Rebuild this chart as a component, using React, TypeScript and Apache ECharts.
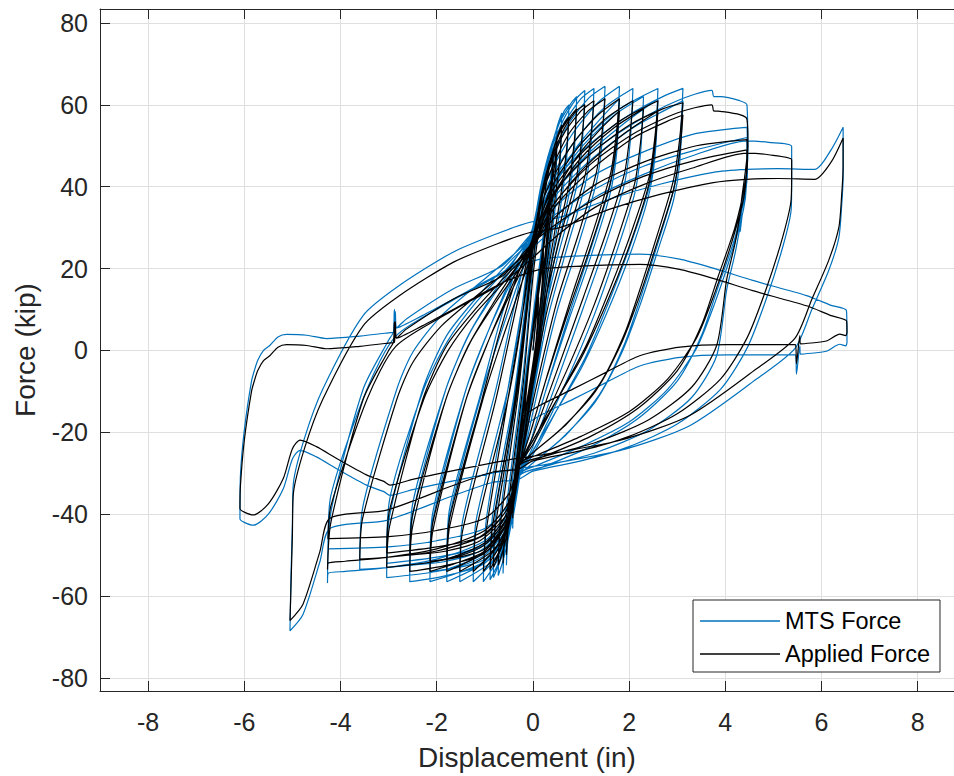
import React, { useEffect, useRef } from "react";
import * as echarts from "echarts";

// ---- axis ticks ----
const xTicks = [-8, -6, -4, -2, 0, 2, 4, 6, 8];
const yTicks = [-80, -60, -40, -20, 0, 20, 40, 60, 80];

// ---- Applied Force (black), cycle by cycle, [displacement in, force kip] ----
const appliedElastic = [
  [0, 0], [0.08, 9], [0.12, 13], [0.09, 6], [0.02, -3], [-0.14, -14], [-0.18, -18],
  [-0.15, -12], [-0.06, -1], [0.18, 19], [0.22, 24],
  [0.19, 16], [0.04, -1], [-0.27, -25], [-0.3, -30],
  [-0.26, -23], [-0.06, 0], [0.28, 30], [0.32, 36],
  [0.29, 28], [0.04, 0], [-0.39, -35], [-0.42, -41],
  [-0.38, -34], [-0.06, 0], [0.38, 41], [0.42, 47],
  [0.39, 39], [0.04, 0], [-0.52, -44], [-0.55, -50],
  [-0.51, -43], [-0.06, 0], [0.46, 46], [0.5, 52],
  [0.47, 44], [0.04, 0], [-0.59, -46], [-0.62, -52],
];
const appliedY01 = [
  [-0.58, -44], [-0.2, -8], [0.02, 20], [0.3, 42], [0.5, 52], [0.6, 55],
  [0.56, 47], [0.45, 36], [0.2, 12], [-0.05, -12], [-0.27, -28], [-0.45, -40], [-0.6, -48], [-0.72, -52.5],
];
const appliedY02 = [
  [-0.68, -43], [-0.3, -10], [-0.05, 17], [0.2, 38], [0.45, 50], [0.65, 55.5], [0.75, 57],
  [0.7, 49], [0.58, 38], [0.3, 18], [0, -8], [-0.27, -28], [-0.45, -40], [-0.65, -48], [-0.82, -53],
];
const appliedY03 = [
  [-0.78, -43], [-0.35, -12], [-0.1, 12], [0, 25], [0.25, 42], [0.55, 53], [0.8, 57.5], [0.91, 59],
  [0.86, 51], [0.74, 40], [0.4, 22], [0.05, -5], [-0.27, -28], [-0.45, -40], [-0.7, -49], [-0.89, -53.5],
];
const appliedY04 = [
  [-0.84, -43], [-0.4, -14], [-0.12, 12], [0, 26], [0.25, 42], [0.6, 53], [0.9, 58.5], [1.08, 60],
  [1.02, 52], [0.9, 42], [0.53, 26], [0.15, 6], [-0.1, -14], [-0.27, -28], [-0.45, -40], [-0.7, -48], [-1.03, -54],
];
const appliedY05 = [
  [-0.97, -44], [-0.52, -12], [-0.2, 10], [0, 26], [0.25, 41], [0.6, 52], [1.0, 58.5], [1.27, 61],
  [1.21, 53], [1.09, 43], [0.72, 28], [0.3, 10], [-0.05, -12], [-0.27, -28], [-0.45, -40], [-0.75, -48], [-1.24, -54],
];
const appliedY06 = [
  [-1.18, -44], [-0.52, -12], [-0.25, 6], [-0.05, 24], [0.25, 40], [0.7, 52], [1.15, 58.5], [1.5, 61.5],
  [1.44, 53.5], [1.32, 43.5], [0.95, 28.5], [0.5, 12], [0.05, -10], [-0.27, -28], [-0.45, -40], [-0.8, -48.5], [-1.52, -54],
];
const appliedY07 = [
  [-1.46, -44], [-0.77, -12], [-0.45, 5], [-0.1, 23], [0.25, 38], [0.8, 50], [1.35, 57.5], [1.8, 61.5],
  [1.74, 53.5], [1.62, 43.5], [1.25, 29], [0.8, 13], [0.3, -6], [-0.05, -20], [-0.27, -28], [-0.5, -41], [-0.9, -48.5], [-1.79, -54],
];
const appliedY07b = [
  [-1.73, -43], [-1.04, -12], [-0.6, 4], [-0.1, 21], [0.3, 35], [0.9, 47], [1.4, 54], [1.8, 58.5],
  [1.74, 50.5], [1.6, 40.5], [1.22, 26], [0.75, 10], [0.25, -8], [-0.05, -20], [-0.27, -28], [-0.55, -40], [-1.0, -47], [-1.79, -51],
];
const appliedY08 = [
  [-1.73, -41], [-1.06, -12], [-0.7, 4], [-0.3, 19], [0, 26], [0.35, 39], [0.9, 49], [1.5, 56.5], [2.08, 61],
  [2.02, 53], [1.9, 43], [1.53, 29], [1.05, 13], [0.5, -5], [0, -21], [-0.27, -28], [-0.5, -41], [-1.0, -49], [-1.6, -52], [-2.14, -54],
];
const appliedY08b = [
  [-2.08, -44], [-1.39, -12], [-0.9, 3], [-0.3, 18], [0, 25], [0.4, 37], [1.0, 47], [1.7, 54.5], [2.3, 59],
  [2.24, 51], [2.12, 41], [1.75, 27], [1.27, 11], [0.7, -5], [0.1, -20], [-0.27, -28], [-0.5, -40], [-1.0, -47.5], [-1.6, -50.5], [-2.14, -51.5],
];
const appliedY09 = [
  [-2.08, -42], [-1.39, -12], [-0.9, 3], [-0.5, 14], [-0.05, 26], [0.35, 38], [1.0, 48], [1.8, 56], [2.6, 61],
  [2.54, 52.5], [2.42, 42.5], [2.05, 29], [1.6, 15], [1.1, 1], [0.5, -12], [0, -23], [-0.27, -28], [-0.5, -41], [-1.0, -49.5], [-1.8, -52.5], [-2.56, -54],
];
const appliedY09b = [
  [-2.5, -43], [-1.81, -12], [-1.3, 2], [-0.7, 13], [-0.05, 24], [0.4, 35], [1.1, 45], [1.9, 53], [2.6, 58.5],
  [2.54, 50], [2.4, 40], [2.02, 26], [1.55, 12], [1.0, -2], [0.4, -14], [-0.05, -23], [-0.27, -28], [-0.55, -40], [-1.1, -46.5], [-1.8, -49], [-2.56, -50],
];
const appliedY10 = [
  [-2.5, -40], [-1.81, -12], [-1.35, 1], [-0.8, 12], [-0.3, 21], [0, 27], [0.4, 38], [1.1, 47], [2.0, 55], [2.7, 59], [3.12, 60.5],
  [3.04, 50.5], [2.92, 41.5], [2.62, 29.5], [2.27, 16.5], [1.92, 4.5], [1.4, -8], [0.7, -18], [0, -25], [-0.27, -28], [-0.5, -40], [-1.0, -48.5], [-2.0, -51.5], [-3.04, -53],
];
const appliedY10b = [
  [-2.98, -43], [-2.29, -12], [-1.8, 1], [-1.2, 10], [-0.5, 19], [0, 25], [0.45, 35], [1.2, 44], [2.1, 52], [2.8, 56], [3.12, 57.5],
  [3.05, 48], [2.92, 39], [2.6, 27], [2.24, 14], [1.85, 2], [1.3, -10], [0.6, -19], [0, -25], [-0.27, -28], [-0.55, -39], [-1.1, -45.5], [-2.0, -48], [-3.04, -49.5],
];
const appliedY11 = [
  [-2.98, -39], [-2.27, -12], [-1.76, 0], [-1.2, 9], [-0.5, 18], [0, 26], [0.45, 36], [1.2, 45.5], [2.1, 53], [3.0, 58], [3.72, 60], [3.76, 58.5], [3.9, 58.4], [4.3, 57.6], [4.45, 56.5],
  [4.47, 50], [4.42, 44], [4.34, 37], [4.31, 33.5], [4.35, 36], [4.2, 26], [4.03, 17.4], [3.82, 1.2], [3.3, -9], [2.4, -17], [1.3, -22.5], [0.2, -26], [-0.27, -28], [-0.5, -38], [-1.0, -45], [-2.0, -49], [-3.0, -50.5], [-3.6, -51],
];
const appliedY12 = [
  [-3.54, -41], [-2.83, -12], [-2.5, -3], [-1.9, 6], [-1.0, 15], [-0.3, 22], [0, 26], [0.5, 33], [1.3, 40.5], [2.3, 46], [3.4, 50], [4.45, 51.5],
  [4.46, 46], [4.4, 40], [4.2, 30], [3.85, 18], [3.5, 6], [3.0, -5], [2.2, -14], [1.2, -21], [0.2, -26], [-0.27, -28], [-0.5, -37], [-1.0, -44], [-2.0, -48.5], [-3.0, -50.5], [-3.9, -51.5], [-4.26, -52], [-4.27, -53.5],
];
const appliedY12b = [
  [-4.2, -42], [-3.53, -12], [-3.0, 0], [-2.9, 2], [-2.88, 7], [-2.84, 3], [-2.63, 5.2], [-1.66, 12.5], [-0.62, 18.3], [-0.06, 25.6], [0.5, 31], [1.3, 37], [2.3, 42.5], [3.4, 46.5], [4.45, 49],
  [4.44, 43], [4.38, 37], [4.15, 27], [3.78, 14], [3.4, 3], [2.8, -7], [2.0, -15], [1.0, -21], [0.1, -25.5], [-0.27, -27.5], [-0.5, -35], [-1.0, -41], [-2.0, -44], [-3.0, -45.5], [-4.26, -46],
];
const appliedY13 = [
  [-4.2, -38], [-3.45, -12], [-2.85, 1], [-1.7, 9.5], [-0.7, 16], [-0.06, 22], [0.5, 28], [1.3, 35], [2.3, 40.5], [3.3, 44.5], [4.45, 48.2], [4.9, 47.8], [5.38, 46.6],
  [5.38, 44], [5.37, 37], [5.2, 28], [4.85, 15], [4.45, 3], [3.9, -7], [3.0, -15.5], [2.0, -21], [1.0, -24.5], [0, -27], [-0.3, -29], [-0.83, -29.7], [-1.66, -33], [-3.04, -39], [-4.22, -41], [-4.43, -49.2], [-4.78, -62], [-5.05, -66],
];
const appliedY14 = [
  [-5.03, -58], [-5.0, -45], [-4.98, -35], [-4.75, -24], [-4.37, -12], [-3.53, 6], [-2.77, 13.4], [-1.66, 21.5], [-0.75, 26], [-0.06, 28.8], [0.56, 30], [1.6, 34.5], [2.64, 38.1], [3.75, 41], [4.44, 41.8], [5.1, 42], [5.86, 41.8], [6.2, 46], [6.45, 51.9],
  [6.45, 45], [6.42, 38], [6.36, 30], [6.15, 22], [5.8, 12.5], [5.45, 3], [4.65, -4.5], [3.26, -15.9], [1.8, -22], [0.15, -25.6], [-0.4, -26.5], [-1.5, -29], [-2.5, -31.5], [-2.97, -32.9], [-3.1, -32], [-3.46, -30.4], [-4.08, -26.4], [-4.5, -23.5], [-4.84, -21.9], [-5.0, -24], [-5.19, -31.3], [-5.5, -37.5], [-5.81, -40.2], [-6.0, -39.5], [-6.09, -38.6],
];
const appliedY15 = [
  [-6.08, -33], [-6.0, -22], [-5.85, -10], [-5.78, -7], [-5.72, -4.9], [-5.6, -2.5], [-5.47, -1.3], [-5.3, 0.8], [-5.12, 1.4], [-4.7, 1.2], [-4.29, 0.4], [-3.6, 1], [-3.0, 1.8], [-2.88, 2], [-2.86, 7], [-2.83, 3], [-2.3, 6], [-1.66, 10], [-0.62, 16.6], [0.15, 19.8], [1.0, 20.6], [2.22, 21], [3.05, 19.8], [3.8, 17.4], [4.57, 14.6], [5.69, 10.9], [6.2, 8.5], [6.52, 7.2],
  [6.53, 4.5], [6.5, 3.6], [6.38, 4], [6.1, 2.3], [5.56, 1.6], [5.55, 3.6], [5.48, -3.3], [5.46, 1.4], [5.13, 1.4], [4.03, 1.4], [3.06, 0.8], [2.22, -1.3], [1.53, -5.3], [0.84, -9.4], [0.15, -13.4], [-0.2, -16],
];

// ---- MTS Force (blue), cycle by cycle ----
const mtsElastic = [
  [0, 0], [0.08, 11.5], [0.12, 15.5], [0.09, 3.5], [0.02, -5.5], [-0.14, -16.5], [-0.18, -20.5],
  [-0.15, -9.5], [-0.06, 1.5], [0.18, 21.5], [0.22, 26.5],
  [0.19, 13.5], [0.04, -3.5], [-0.27, -27.5], [-0.3, -32.5],
  [-0.26, -20.5], [-0.06, 2.5], [0.28, 32.5], [0.32, 38.5],
  [0.29, 25.5], [0.04, -2.5], [-0.39, -37.5], [-0.42, -43.5],
  [-0.38, -31.5], [-0.06, 2.5], [0.38, 43.5], [0.42, 49.5],
  [0.39, 36.5], [0.04, -2.5], [-0.52, -46.5], [-0.55, -52.5],
  [-0.51, -40.5], [-0.06, 2.5], [0.46, 48.5], [0.5, 54.5],
  [0.47, 41.5], [0.04, -2.5], [-0.59, -48.5], [-0.62, -54.5],
];
const mtsY01 = [
  [-0.58, -41.5], [-0.2, -5.5], [0.02, 22.5], [0.3, 44.5], [0.5, 54.5], [0.6, 58],
  [0.56, 44.5], [0.45, 33.5], [0.2, 9.5], [-0.05, -14.5], [-0.27, -30.5], [-0.45, -42.5], [-0.6, -50.5], [-0.72, -55],
];
const mtsY02 = [
  [-0.68, -40.5], [-0.3, -7.5], [-0.05, 19.5], [0.2, 40.5], [0.45, 52.5], [0.65, 58.5], [0.75, 60],
  [0.7, 46.5], [0.58, 35.5], [0.3, 15.5], [0, -10.5], [-0.27, -30.5], [-0.45, -42.5], [-0.65, -50.5], [-0.82, -55.5],
];
const mtsY03 = [
  [-0.78, -40.5], [-0.35, -9.5], [-0.1, 14.5], [0, 27.5], [0.25, 44.5], [0.55, 55.5], [0.8, 60.5], [0.91, 62],
  [0.86, 48.5], [0.74, 37.5], [0.4, 19.5], [0.05, -7.5], [-0.27, -30.5], [-0.45, -42.5], [-0.7, -51.5], [-0.89, -56],
];
const mtsY04 = [
  [-0.84, -40.5], [-0.4, -11.5], [-0.12, 14.5], [0, 28.5], [0.25, 44.5], [0.6, 55.5], [0.9, 61.5], [1.08, 63.5],
  [1.02, 49.5], [0.9, 39.5], [0.53, 23.5], [0.15, 3.5], [-0.1, -16.5], [-0.27, -30.5], [-0.45, -42.5], [-0.7, -50.5], [-1.03, -56.5],
];
const mtsY05 = [
  [-0.97, -41.5], [-0.52, -9.5], [-0.2, 12.5], [0, 28.5], [0.25, 43.5], [0.6, 54.5], [1.0, 61.5], [1.27, 64],
  [1.21, 50.5], [1.09, 40.5], [0.72, 25.5], [0.3, 7.5], [-0.05, -14.5], [-0.27, -30.5], [-0.45, -42.5], [-0.75, -50.5], [-1.24, -56.5],
];
const mtsY06 = [
  [-1.18, -41.5], [-0.52, -9.5], [-0.25, 8.5], [-0.05, 26.5], [0.25, 42.5], [0.7, 54.5], [1.15, 61.5], [1.5, 64.5],
  [1.44, 51], [1.32, 41], [0.95, 26], [0.5, 9.5], [0.05, -12.5], [-0.27, -30.5], [-0.45, -42.5], [-0.8, -51], [-1.52, -56.5],
];
const mtsY07 = [
  [-1.46, -41.5], [-0.77, -9.5], [-0.45, 7.5], [-0.1, 25.5], [0.25, 40.5], [0.8, 52.5], [1.35, 60.5], [1.8, 64.5],
  [1.74, 51], [1.62, 41], [1.25, 26.5], [0.8, 10.5], [0.3, -8.5], [-0.05, -22.5], [-0.27, -30.5], [-0.5, -43.5], [-0.9, -51], [-1.79, -56.5],
];
const mtsY07b = [
  [-1.73, -40.5], [-1.04, -9.5], [-0.6, 6.5], [-0.1, 23.5], [0.3, 37.5], [0.9, 49.5], [1.4, 56.5], [1.8, 61.5],
  [1.74, 48], [1.6, 38], [1.22, 23.5], [0.75, 7.5], [0.25, -10.5], [-0.05, -22.5], [-0.27, -30.5], [-0.55, -42.5], [-1.0, -49.5], [-1.79, -53.5],
];
const mtsY08 = [
  [-1.73, -38.5], [-1.06, -9.5], [-0.7, 6.5], [-0.3, 21.5], [0, 28.5], [0.35, 41.5], [0.9, 51.5], [1.5, 59.5], [2.08, 64],
  [2.02, 50.5], [1.9, 40.5], [1.53, 26.5], [1.05, 10.5], [0.5, -7.5], [0, -23.5], [-0.27, -30.5], [-0.5, -43.5], [-1.0, -51.5], [-1.6, -54.5], [-2.14, -56.5],
];
const mtsY08b = [
  [-2.08, -41.5], [-1.39, -9.5], [-0.9, 5.5], [-0.3, 20.5], [0, 27.5], [0.4, 39.5], [1.0, 49.5], [1.7, 57.5], [2.3, 62],
  [2.24, 48.5], [2.12, 38.5], [1.75, 24.5], [1.27, 8.5], [0.7, -7.5], [0.1, -22.5], [-0.27, -30.5], [-0.5, -42.5], [-1.0, -50], [-1.6, -53], [-2.14, -54],
];
const mtsY09 = [
  [-2.08, -39.5], [-1.39, -9.5], [-0.9, 5.5], [-0.5, 16.5], [-0.05, 28.5], [0.35, 40.5], [1.0, 50.5], [1.8, 59], [2.6, 64],
  [2.54, 50], [2.42, 40], [2.05, 26.5], [1.6, 12.5], [1.1, -1.5], [0.5, -14.5], [0, -25.5], [-0.27, -30.5], [-0.5, -43.5], [-1.0, -52], [-1.8, -55], [-2.56, -56.5],
];
const mtsY09b = [
  [-2.5, -40.5], [-1.81, -9.5], [-1.3, 4.5], [-0.7, 15.5], [-0.05, 26.5], [0.4, 37.5], [1.1, 47.5], [1.9, 55.5], [2.6, 61.5],
  [2.54, 47.5], [2.4, 37.5], [2.02, 23.5], [1.55, 9.5], [1.0, -4.5], [0.4, -16.5], [-0.05, -25.5], [-0.27, -30.5], [-0.55, -42.5], [-1.1, -49], [-1.8, -51.5], [-2.56, -52.5],
];
const mtsY10 = [
  [-2.5, -37.5], [-1.81, -9.5], [-1.35, 3.5], [-0.8, 14.5], [-0.3, 23.5], [0, 29.5], [0.4, 40.5], [1.1, 49.5], [2.0, 57.5], [2.7, 62], [3.12, 64],
  [3.04, 48], [2.92, 39], [2.62, 27], [2.27, 14], [1.92, 2], [1.4, -10.5], [0.7, -20.5], [0, -27.5], [-0.27, -30.5], [-0.5, -42.5], [-1.0, -51], [-2.0, -54], [-3.04, -55.5],
];
const mtsY10b = [
  [-2.98, -40.5], [-2.29, -9.5], [-1.8, 3.5], [-1.2, 12.5], [-0.5, 21.5], [0, 27.5], [0.45, 37.5], [1.2, 46.5], [2.1, 54.5], [2.8, 59], [3.12, 61],
  [3.05, 45.5], [2.92, 36.5], [2.6, 24.5], [2.24, 11.5], [1.85, -0.5], [1.3, -12.5], [0.6, -21.5], [0, -27.5], [-0.27, -30.5], [-0.55, -41.5], [-1.1, -48], [-2.0, -50.5], [-3.04, -52],
];
const mtsY11 = [
  [-2.98, -36.5], [-2.27, -9.5], [-1.76, 2.5], [-1.2, 11.5], [-0.5, 20.5], [0, 28.5], [0.45, 38.5], [1.2, 48], [2.1, 55.5], [3.0, 61], [3.72, 63.5], [3.76, 62], [3.9, 62], [4.3, 61], [4.45, 60],
  [4.47, 47.5], [4.42, 41.5], [4.34, 34.5], [4.31, 29], [4.35, 33], [4.2, 23.5], [4.03, 14.9], [3.82, -1.3], [3.3, -11.5], [2.4, -19.5], [1.3, -25], [0.2, -28.5], [-0.27, -30.5], [-0.5, -40.5], [-1.0, -47.5], [-2.0, -51.5], [-3.0, -53], [-3.6, -53.5],
];
const mtsY12 = [
  [-3.54, -38.5], [-2.83, -9.5], [-2.5, -0.5], [-1.9, 8.5], [-1.0, 17.5], [-0.3, 24.5], [0, 28.5], [0.5, 35.5], [1.3, 43], [2.3, 48.5], [3.4, 53], [4.45, 54.5],
  [4.46, 43.5], [4.4, 37.5], [4.2, 27.5], [3.85, 15.5], [3.5, 3.5], [3.0, -7.5], [2.2, -16.5], [1.2, -23.5], [0.2, -28.5], [-0.27, -30.5], [-0.5, -39.5], [-1.0, -46.5], [-2.0, -51], [-3.0, -53], [-3.9, -54], [-4.26, -54.5], [-4.27, -56.8],
];
const mtsY12b = [
  [-4.2, -39.5], [-3.53, -9.5], [-3.0, 2.5], [-2.9, 4.5], [-2.88, 10], [-2.84, 5.5], [-2.63, 7.7], [-1.66, 15], [-0.62, 20.8], [-0.06, 28.1], [0.5, 33.5], [1.3, 39.5], [2.3, 45], [3.4, 49], [4.45, 52],
  [4.44, 40.5], [4.38, 34.5], [4.15, 24.5], [3.78, 11.5], [3.4, 0.5], [2.8, -9.5], [2.0, -17.5], [1.0, -23.5], [0.1, -28], [-0.27, -30], [-0.5, -37.5], [-1.0, -43.5], [-2.0, -46.5], [-3.0, -48], [-4.26, -48.5],
];
const mtsY13 = [
  [-4.2, -35.5], [-3.45, -9.5], [-2.85, 3.5], [-1.7, 12], [-0.7, 18.5], [-0.06, 24.5], [0.5, 30.5], [1.3, 37.5], [2.3, 43], [3.3, 47.5], [4.45, 51.2], [4.9, 50.8], [5.38, 49.8],
  [5.38, 41.5], [5.37, 34.5], [5.2, 25.5], [4.85, 12.5], [4.45, 0.5], [3.9, -9.5], [3.0, -18], [2.0, -23.5], [1.0, -27], [0, -29.5], [-0.3, -31.5], [-0.83, -32.2], [-1.66, -35.5], [-3.04, -41.5], [-4.22, -43.5], [-4.43, -51.7], [-4.78, -64.5], [-5.05, -68.5],
];
const mtsY14 = [
  [-5.03, -55.5], [-5.0, -42.5], [-4.98, -32.5], [-4.75, -21.5], [-4.37, -9.5], [-3.53, 8.5], [-2.77, 15.9], [-1.66, 24], [-0.75, 28.5], [-0.06, 31.3], [0.56, 32.5], [1.6, 37], [2.64, 40.6], [3.75, 43.5], [4.44, 44.2], [5.1, 44.4], [5.86, 44.2], [6.2, 49], [6.45, 54.5],
  [6.45, 42.5], [6.42, 35.5], [6.36, 27.5], [6.15, 19.5], [5.8, 10], [5.45, 0.5], [4.65, -7], [3.26, -18.4], [1.8, -24.5], [0.15, -28.1], [-0.4, -29], [-1.5, -31.5], [-2.5, -34], [-2.97, -35.4], [-3.1, -34.5], [-3.46, -32.9], [-4.08, -28.9], [-4.5, -26], [-4.84, -24.4], [-5.0, -26.5], [-5.19, -33.8], [-5.5, -40], [-5.81, -42.7], [-6.0, -42], [-6.09, -41.1],
];
const mtsY15 = [
  [-6.08, -30.5], [-6.0, -19.5], [-5.85, -7.5], [-5.78, -4.5], [-5.72, -2.4], [-5.6, 0], [-5.47, 1.2], [-5.3, 3.3], [-5.12, 3.9], [-4.7, 3.7], [-4.29, 2.9], [-3.6, 3.5], [-3.0, 4.3], [-2.88, 4.5], [-2.86, 9.5], [-2.83, 5.5], [-2.3, 8.5], [-1.66, 12.5], [-0.62, 19.1], [0.15, 22.3], [1.0, 23.1], [2.22, 23.5], [3.05, 22.3], [3.8, 19.9], [4.57, 17.1], [5.69, 13.4], [6.2, 11], [6.52, 9.7],
  [6.53, 2], [6.5, 1.1], [6.38, 1.5], [6.1, -0.2], [5.56, -0.9], [5.55, 1.1], [5.48, -5.8], [5.46, -1.1], [5.13, -1.1], [4.03, -1.1], [3.06, -1.7], [2.22, -3.8], [1.53, -7.8], [0.84, -11.9], [0.15, -15.9], [-0.2, -18.5],
];

const appliedPath = [
  ...appliedElastic, ...appliedY01, ...appliedY02, ...appliedY03, ...appliedY04, ...appliedY05,
  ...appliedY06, ...appliedY07, ...appliedY07b, ...appliedY08, ...appliedY08b, ...appliedY09,
  ...appliedY09b, ...appliedY10, ...appliedY10b, ...appliedY11, ...appliedY12, ...appliedY12b,
  ...appliedY13, ...appliedY14, ...appliedY15,
];
const mtsPath = [
  ...mtsElastic, ...mtsY01, ...mtsY02, ...mtsY03, ...mtsY04, ...mtsY05,
  ...mtsY06, ...mtsY07, ...mtsY07b, ...mtsY08, ...mtsY08b, ...mtsY09,
  ...mtsY09b, ...mtsY10, ...mtsY10b, ...mtsY11, ...mtsY12, ...mtsY12b,
  ...mtsY13, ...mtsY14, ...mtsY15,
];

const FONT = "'Liberation Sans', Arial, Helvetica, sans-serif";
const AX = "#262626";
const GRID = "#dfdfdf";

export default function App() {
  const ref = useRef<HTMLDivElement>(null);
  useEffect(() => {
    if (!ref.current) return;
    const chart = echarts.init(ref.current, undefined, { renderer: "svg" });
    const axisCommon = {
      axisLine: { show: true, onZero: false, lineStyle: { color: AX, width: 1 } },
    };
    chart.setOption({
      animation: false,
      backgroundColor: "#ffffff",
      textStyle: { fontFamily: FONT },
      grid: { left: 100, right: 0, top: 9, bottom: 83, containLabel: false },
      legend: {
        data: ["MTS Force", "Applied Force"],
        orient: "vertical",
        left: 693,
        top: 600,
        icon: "rect",
        itemWidth: 80,
        itemHeight: 1.4,
        itemGap: 7,
        padding: [8, 10, 5, 7],
        backgroundColor: "#ffffff",
        borderColor: AX,
        borderWidth: 1,
        borderRadius: 0,
        textStyle: { fontSize: 23.5, color: "#000000", fontFamily: FONT, lineHeight: 26 },
      },
      xAxis: [
        {
          type: "value",
          min: -9,
          max: 8.755,
          position: "bottom",
          ...axisCommon,
          axisTick: { show: true, inside: true, length: 10, lineStyle: { color: AX }, customValues: xTicks },
          axisLabel: { customValues: xTicks, color: AX, fontSize: 25, margin: 18, fontFamily: FONT },
          splitLine: { show: true, lineStyle: { color: GRID, width: 1 } },
          name: "Displacement (in)",
          nameLocation: "middle",
          nameGap: 52,
          nameTextStyle: { fontSize: 28, color: AX, fontFamily: FONT },
        },
        {
          type: "value",
          min: -9,
          max: 8.755,
          position: "top",
          ...axisCommon,
          axisTick: { show: true, inside: true, length: 10, lineStyle: { color: AX }, customValues: xTicks },
          axisLabel: { show: false },
          splitLine: { show: false },
        },
      ],
      yAxis: [
        {
          type: "value",
          min: -83.2,
          max: 83.4,
          position: "left",
          ...axisCommon,
          axisTick: { show: true, inside: true, length: 10, lineStyle: { color: AX }, customValues: yTicks },
          axisLabel: { customValues: yTicks, color: AX, fontSize: 25, margin: 12, fontFamily: FONT },
          splitLine: { show: true, lineStyle: { color: GRID, width: 1 } },
          name: "Force (kip)",
          nameLocation: "middle",
          nameGap: 61,
          nameTextStyle: { fontSize: 28, color: AX, fontFamily: FONT },
        },
      ],
      series: [
        {
          name: "MTS Force",
          type: "line",
          xAxisIndex: 0,
          yAxisIndex: 0,
          data: mtsPath,
          showSymbol: false,
          symbol: "none",
          smooth: 0.25,
          lineStyle: { color: "#0072BD", width: 1.2 },
          itemStyle: { color: "#0072BD" },
          emphasis: { disabled: true },
          clip: true,
        },
        {
          name: "Applied Force",
          type: "line",
          xAxisIndex: 0,
          yAxisIndex: 0,
          data: appliedPath,
          showSymbol: false,
          symbol: "none",
          smooth: 0.25,
          lineStyle: { color: "#000000", width: 1.2 },
          itemStyle: { color: "#000000" },
          emphasis: { disabled: true },
          clip: true,
        },
      ],
    });
    return () => chart.dispose();
  }, []);
  return (
    <div
      ref={ref}
      style={{ position: "fixed", left: 0, top: 0, width: 954, height: 776, background: "#fff" }}
    />
  );
}
